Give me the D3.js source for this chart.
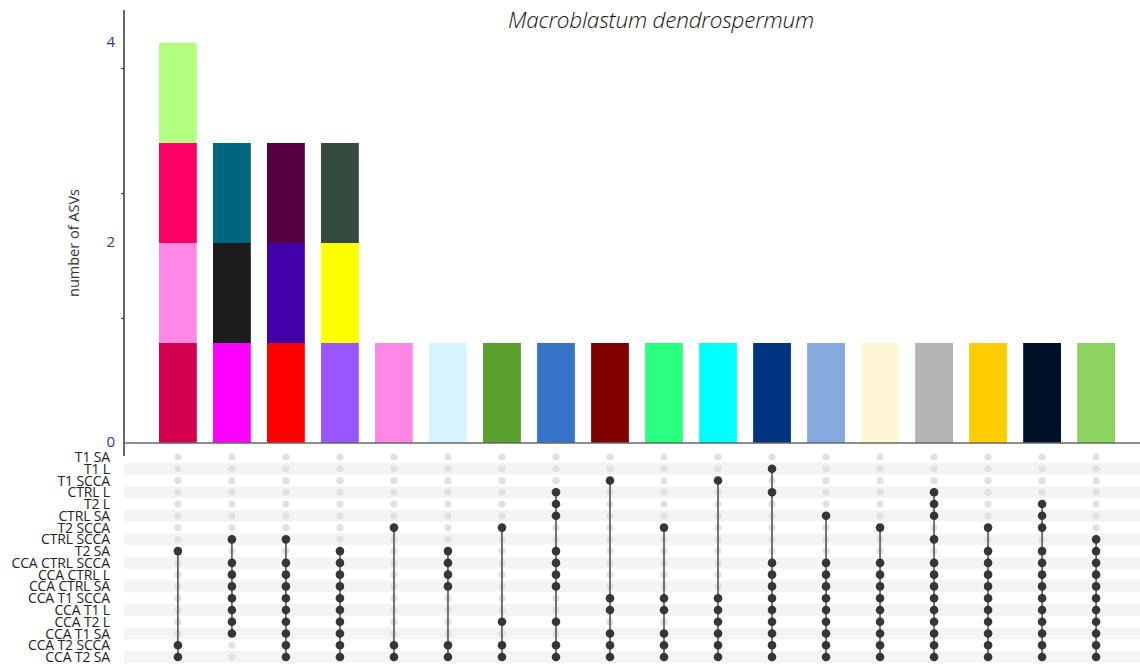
<!DOCTYPE html>
<html>
<head>
<meta charset="utf-8">
<script src="https://cdn.jsdelivr.net/npm/d3@7"></script>
<style>
  html, body { margin: 0; padding: 0; background: #ffffff; }
  svg { display: block; }
</style>
</head>
<body>
<svg id="chart" width="1140" height="664"></svg>
<script>
// ---------------- data ----------------
const title = "Macroblastum dendrospermum";
const yLabel = "number of ASVs";
const sets = ["T1 SA", "T1 L", "T1 SCCA", "CTRL L", "T2 L", "CTRL SA", "T2 SCCA", "CTRL SCCA", "T2 SA",
  "CCA CTRL SCCA", "CCA CTRL L", "CCA CTRL SA", "CCA T1 SCCA", "CCA T1 L", "CCA T2 L", "CCA T1 SA",
  "CCA T2 SCCA", "CCA T2 SA"];
const intersections = ["I1","I2","I3","I4","I5","I6","I7","I8","I9","I10","I11","I12","I13","I14","I15","I16","I17","I18"];
// members (indices into sets) of each intersection column
const members = [
  [8,16,17],
  [7,9,10,11,12,13,14,15],
  [7,9,10,11,12,13,14,15,16,17],
  [8,9,10,11,12,13,14,15,16,17],
  [6,16,17],
  [8,9,10,11,16,17],
  [6,14,16,17],
  [3,4,5,8,9,10,11,14,16,17],
  [2,12,13,15,16,17],
  [6,12,13,15,16,17],
  [2,12,13,14,15,16,17],
  [1,3,9,10,11,12,13,14,15,16,17],
  [5,9,10,11,12,13,14,15,16,17],
  [6,9,10,11,12,13,14,15,16,17],
  [3,4,5,7,9,10,11,12,13,14,15,16,17],
  [6,8,9,10,11,12,13,14,15,16,17],
  [4,5,6,8,9,10,11,12,13,14,15,16,17],
  [7,8,9,10,11,12,13,14,15,16,17]
];
// each ASV (value 1) in a column, bottom to top, with its colour
const asvColors = [
  ["#D4004F","#FF88E6","#FF0066","#B3FF80"],
  ["#FF00FF","#1C1C1C","#006680"],
  ["#FF0000","#4400AA","#550040"],
  ["#9955FF","#FFFF00","#364A3E"],
  ["#FF88E6"],
  ["#D5F4FF"],
  ["#5AA02C"],
  ["#3574C8"],
  ["#800000"],
  ["#2AFF80"],
  ["#00FFFF"],
  ["#003380"],
  ["#87AADE"],
  ["#FFF6D5"],
  ["#B3B3B3"],
  ["#FFCC00"],
  ["#001128"],
  ["#8DD35F"]
];
const yTickLabels = [0, 2, 4];
const yTickMarks = [1.25, 2.5, 3.75];

// ---------------- layout ----------------
const svg = d3.select("#chart");
const axisX = 124;
const x = d3.scaleBand().domain(intersections).range([159, 1115]).paddingInner(0.3).paddingOuter(0);
const y = d3.scaleLinear().domain([0, 4.33]).range([443, 10]);
const rowY = d3.scalePoint().domain(sets).range([457, 657]);

// title
svg.append("text")
  .attr("x", 661).attr("y", 28)
  .attr("text-anchor", "middle")
  .attr("font-family", "'Open Sans', sans-serif")
  .attr("font-style", "italic")
  .attr("font-weight", 300)
  .attr("font-size", 22.5)
  .attr("letter-spacing", -0.2)
  .attr("fill", "#111")
  .text(title);

// y label
svg.append("text")
  .attr("transform", `translate(79,${y(2)}) rotate(-90)`)
  .attr("text-anchor", "middle")
  .attr("font-family", "'Open Sans', sans-serif")
  .attr("font-size", 14.5)
  .attr("fill", "#333")
  .text(yLabel);

// matrix stripes
const rowStep = rowY.step();
svg.append("g").selectAll("rect")
  .data(sets.filter((d, i) => i % 2 === 1))
  .join("rect")
  .attr("x", axisX).attr("width", 1140 - axisX)
  .attr("y", d => rowY(d) - rowStep / 2)
  .attr("height", rowStep)
  .attr("fill", "#F4F4F4");

// stacked bars
const segs = [];
asvColors.forEach((cols, i) => cols.forEach((c, j) => segs.push({col: intersections[i], y0: j, y1: j + 1, color: c})));
svg.append("g").selectAll("rect")
  .data(segs)
  .join("rect")
  .attr("x", d => x(d.col))
  .attr("width", x.bandwidth())
  .attr("y", d => y(d.y1))
  .attr("height", d => y(d.y0) - y(d.y1))
  .attr("fill", d => d.color);

// y axis
const yAxis = d3.axisLeft(y).tickValues(yTickLabels).tickSize(0).tickPadding(9).tickFormat(d3.format("d"));
const gy = svg.append("g").attr("transform", `translate(${axisX},0)`).call(yAxis);
gy.select(".domain").remove();
gy.selectAll("text").attr("font-family", "'Open Sans', sans-serif").attr("font-size", 15).attr("fill", "#33339A").attr("dy", "0.2em");
const gm = svg.append("g").attr("transform", `translate(${axisX},0)`)
  .call(d3.axisLeft(y).tickValues(yTickMarks).tickSize(3).tickFormat(""));
gm.select(".domain").remove();
gm.selectAll("line").attr("stroke", "#333");
svg.append("line")
  .attr("x1", axisX).attr("x2", axisX)
  .attr("y1", y(4.33)).attr("y2", 456)
  .attr("stroke", "#333").attr("stroke-width", 1.5);
// baseline
svg.append("line")
  .attr("x1", axisX).attr("x2", 1140)
  .attr("y1", y(0)).attr("y2", y(0))
  .attr("stroke", "#666").attr("stroke-width", 1.5);

// set labels (they overlap slightly in the reference, too)
svg.append("g").selectAll("text")
  .data(sets)
  .join("text")
  .attr("x", 110)
  .attr("y", d => rowY(d))
  .attr("dy", "0.36em")
  .attr("text-anchor", "end")
  .attr("font-family", "'Open Sans', sans-serif")
  .attr("font-size", 14)
  .attr("letter-spacing", -0.15)
  .attr("fill", "#222")
  .text(d => d);

// matrix dots
const cx = d => x(d) + x.bandwidth() / 2;
const gDots = svg.append("g");
intersections.forEach((col, i) => {
  const mem = new Set(members[i]);
  gDots.selectAll(null)
    .data(sets.filter((s, k) => !mem.has(k)))
    .join("circle")
    .attr("cx", cx(col)).attr("cy", d => rowY(d)).attr("r", 3.6)
    .attr("fill", "#E2E2E2");
});
intersections.forEach((col, i) => {
  const ys = members[i].map(k => rowY(sets[k]));
  gDots.append("line")
    .attr("x1", cx(col)).attr("x2", cx(col))
    .attr("y1", d3.min(ys)).attr("y2", d3.max(ys))
    .attr("stroke", "#555").attr("stroke-width", 1.6);
  gDots.selectAll(null)
    .data(members[i])
    .join("circle")
    .attr("cx", cx(col)).attr("cy", k => rowY(sets[k])).attr("r", 4.3)
    .attr("fill", "#363636");
});
</script>
</body>
</html>
